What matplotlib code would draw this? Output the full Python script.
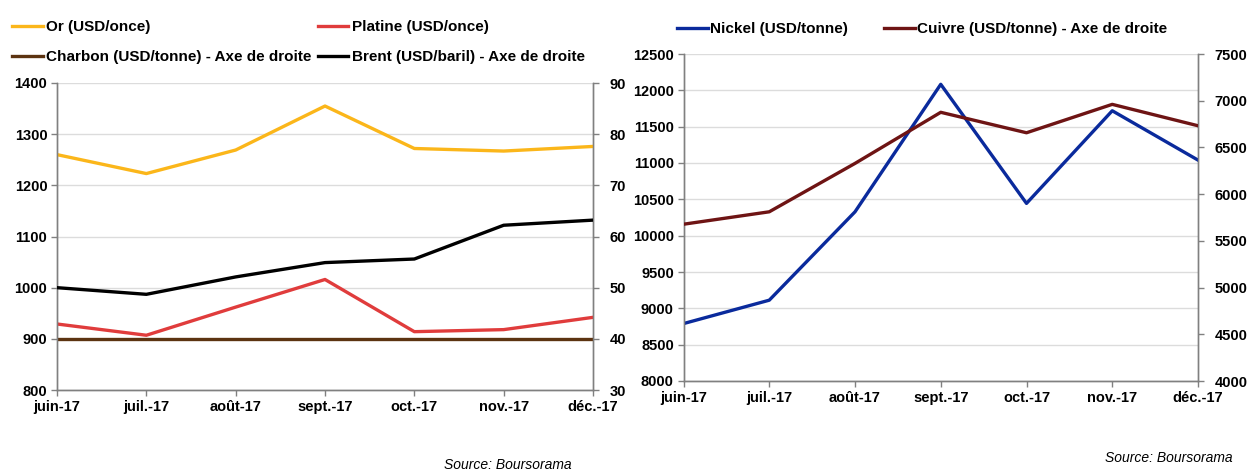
import numpy as np
import matplotlib
matplotlib.use('Agg')
import matplotlib.pyplot as plt

plt.rcParams['font.family'] = ['Liberation Sans', 'DejaVu Sans']
plt.rcParams['font.weight'] = 'bold'

mois = ['juin-17', 'juil.-17', 'août-17', 'sept.-17', 'oct.-17', 'nov.-17', 'déc.-17']

# graphique de gauche
ors = [1260, 1223, 1269, 1355, 1272, 1267, 1276]
platine = [929, 907, 962, 1016, 914, 918, 942]
charbon = [40, 40, 40, 40, 40, 40, 40]
brent = [50.0, 48.7, 52.1, 54.9, 55.6, 62.2, 63.2]

# graphique de droite
nickel = [8790, 9112, 10328, 12083, 10444, 11719, 11040]
cuivre = [5678, 5811, 6329, 6876, 6657, 6961, 6732]

W, H = 1248, 470
fig = plt.figure(figsize=(W/100., H/100.), dpi=100)

grey = '#808080'
grid = '#dcdcdc'
lw = 2.4
fs_tick = 10.5
fs_leg = 11


def style(ax, ax2):
    for a in (ax, ax2):
        a.spines['top'].set_visible(False)
        for s in ('left', 'right', 'bottom'):
            a.spines[s].set_color(grey)
            a.spines[s].set_linewidth(1.0)
        a.tick_params(colors='k', labelsize=fs_tick, length=4, width=1,
                      direction='out')
        for t in a.get_yticklabels():
            t.set_fontweight('bold')
    ax.tick_params(axis='x', color=grey, pad=3)
    ax.tick_params(axis='y', color=grey, pad=3)
    ax2.tick_params(axis='y', color=grey, pad=8)
    ax.yaxis.grid(True, color=grid, linewidth=1)
    ax.set_axisbelow(True)
    for t in ax.get_xticklabels():
        t.set_fontweight('bold')


x = np.arange(len(mois))

# ---- gauche
ax = fig.add_axes([57/W, 1-390/H, (593-57)/W, (390-83)/H])
ax2 = ax.twinx()
l1, = ax.plot(x, ors, color='#fbb61a', lw=lw, zorder=3)
l2, = ax.plot(x, platine, color='#e03c3c', lw=lw, zorder=3)
l3, = ax2.plot(x, charbon, color='#5c3311', lw=lw, zorder=2)
l4, = ax2.plot(x, brent, color='black', lw=lw, zorder=3)
ax.set_xlim(0, 6)
ax.set_ylim(800, 1400)
ax.set_yticks(np.arange(800, 1401, 100))
ax2.set_ylim(30, 90)
ax2.set_yticks(np.arange(30, 91, 10))
ax.set_xticks(x)
ax.set_xticklabels(mois)
style(ax, ax2)

fig.legend([l1, l3, l2, l4],
           ['Or (USD/once)', 'Charbon (USD/tonne) - Axe de droite',
            'Platine (USD/once)', 'Brent (USD/baril) - Axe de droite'],
           loc='upper left', bbox_to_anchor=(12/W, 1-20/H), ncol=2,
           frameon=False, fontsize=fs_leg, handlelength=2.0,
           handletextpad=0.25, columnspacing=0.4, labelspacing=1.05,
           borderaxespad=0, borderpad=0)

# ---- droite
bx = fig.add_axes([683.5/W, 1-381/H, (1198-683.5)/W, (381-54)/H])
bx2 = bx.twinx()
m1, = bx.plot(x, nickel, color='#0a2a9c', lw=lw, zorder=3)
m2, = bx2.plot(x, cuivre, color='#6e1414', lw=lw, zorder=3)
bx.set_xlim(0, 6)
bx.set_ylim(8000, 12500)
bx.set_yticks(np.arange(8000, 12501, 500))
bx2.set_ylim(4000, 7500)
bx2.set_yticks(np.arange(4000, 7501, 500))
bx.set_xticks(x)
bx.set_xticklabels(mois)
style(bx, bx2)

fig.legend([m1, m2], ['Nickel (USD/tonne)', 'Cuivre (USD/tonne) - Axe de droite'],
           loc='upper left', bbox_to_anchor=(677/W, 1-22/H), ncol=2,
           frameon=False, fontsize=fs_leg, handlelength=2.0,
           handletextpad=0.15, columnspacing=2.4, borderaxespad=0,
           borderpad=0)

fig.text(444/W, 1-465/H, 'Source: Boursorama', fontsize=10, style='italic',
         fontweight='normal', va='center')
fig.text(1233/W, 1-458/H, 'Source: Boursorama', fontsize=10, style='italic',
         fontweight='normal', va='center', ha='right')

fig.savefig('out.png', dpi=100)
